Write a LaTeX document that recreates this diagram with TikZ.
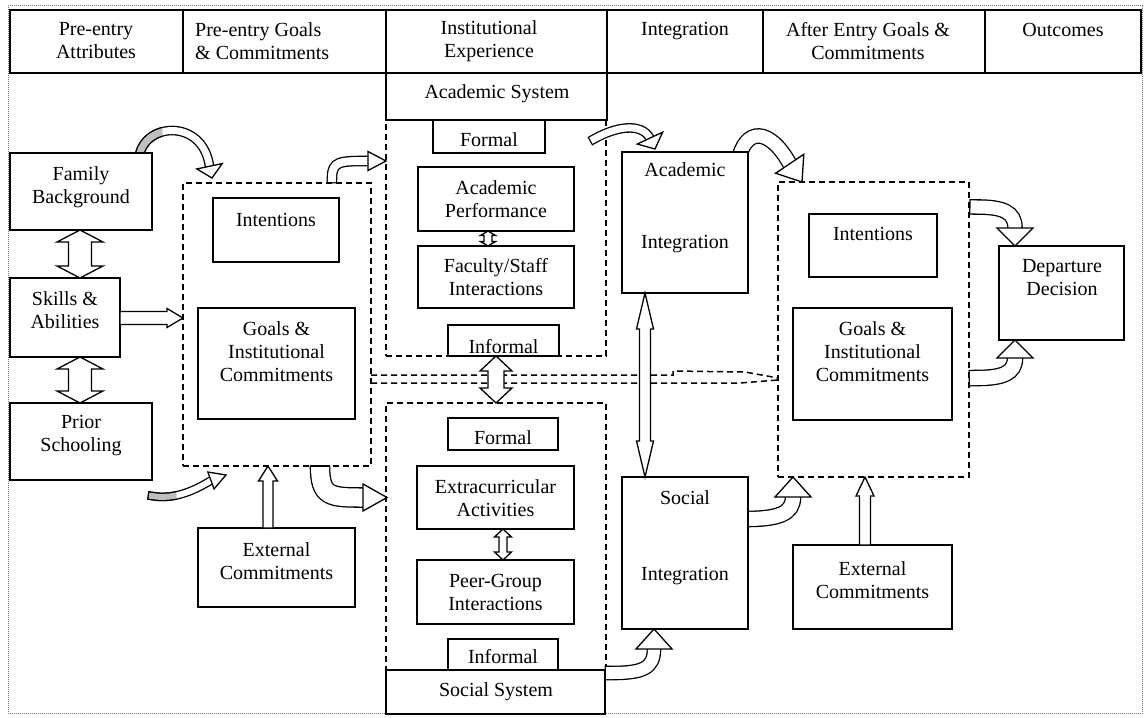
\documentclass[tikz,border=0pt]{standalone}
\usepackage{fontspec}
\setmainfont{Liberation Serif}
\usetikzlibrary{calc}

\tikzset{
  box/.style={draw, line width=1.5pt, fill=white, inner sep=0pt, outer sep=0pt, anchor=north west},
  dbox/.style={draw, line width=1.5pt, dash pattern=on 6pt off 4pt, inner sep=0pt, outer sep=0pt, anchor=north west},
  dline/.style={line width=1.5pt, dash pattern=on 6pt off 4pt},
  txt/.style={align=center, inner sep=0pt, font=\fontsize{20}{23}\selectfont},
  blk/.style={draw, line width=1.3pt, fill=white, line join=miter},
  band/.style={double=white, double distance=#1, line width=1.3pt, line cap=rect},
  headst/.style={draw, line width=1.3pt, fill=white, line join=miter},
  frame/.style={black!55, line width=0.8pt, dash pattern=on 1pt off 1pt}
}

% solid box: name, x1, y1, x2, y2 (pixel coordinates, y downwards)
\newcommand\bx[5]{\node[box, minimum width=#4pt-#2pt, minimum height=#5pt-#3pt] (#1) at (#2,#3) {};}
% dashed box
\newcommand\dbx[5]{\node[dbox, minimum width=#4pt-#2pt, minimum height=#5pt-#3pt] (#1) at (#2,#3) {};}
% vertical double block arrow: x, top anchor, bottom anchor, shaft half, head half, head length
\newcommand\dblV[6]{\draw[blk] let \p1=#2, \p2=#3 in
  (#1pt,\y1) -- (#1pt+#5pt,\y1-#6pt) -- (#1pt+#4pt,\y1-#6pt) -- (#1pt+#4pt,\y2+#6pt) --
  (#1pt+#5pt,\y2+#6pt) -- (#1pt,\y2) -- (#1pt-#5pt,\y2+#6pt) -- (#1pt-#4pt,\y2+#6pt) --
  (#1pt-#4pt,\y1-#6pt) -- (#1pt-#5pt,\y1-#6pt) -- cycle;}
% rightward block arrow: y, from anchor, to anchor, shaft half, head half, head length
\newcommand\arrR[6]{\draw[blk] let \p1=#2, \p2=#3 in
  (\x1,-#1pt+#4pt) -- (\x2-#6pt,-#1pt+#4pt) -- (\x2-#6pt,-#1pt+#5pt) -- (\x2,-#1pt) --
  (\x2-#6pt,-#1pt-#5pt) -- (\x2-#6pt,-#1pt-#4pt) -- (\x1,-#1pt-#4pt) -- cycle;}
% upward block arrow: x, from anchor (bottom), to anchor (top), shaft half, head half, head length
\newcommand\arrU[6]{\draw[blk] let \p1=#2, \p2=#3 in
  (#1pt-#4pt,\y1) -- (#1pt-#4pt,\y2-#6pt) -- (#1pt-#5pt,\y2-#6pt) -- (#1pt,\y2) --
  (#1pt+#5pt,\y2-#6pt) -- (#1pt+#4pt,\y2-#6pt) -- (#1pt+#4pt,\y1) -- cycle;}
% hollow arrow head: tip, direction angle (pixel frame), length, half width
\newcommand\bhead[4]{\draw[headst] #1 -- ($#1+({#2+180}:#3)+({#2+90}:#4)$) -- ($#1+({#2+180}:#3)+({#2-90}:#4)$) -- cycle;}

\begin{document}
\begin{tikzpicture}[x=1pt,y=-1pt]
\useasboundingbox (0,0) rectangle (1145,717);

% outer frame
\draw[frame] (8,5) rectangle (1142.5,713);

% header row
\bx{h1}{10}{10}{183}{73}
\bx{h2}{183}{10}{386}{73}
\bx{h3}{386}{10}{607}{73}
\bx{h4}{607}{10}{763}{73}
\bx{h5}{763}{10}{985}{73}
\bx{h6}{985}{10}{1141}{73}
\node[txt] (h1t) at (96,41) {Pre-entry\\Attributes};
\node[txt, align=left, anchor=west] (h2t) at (195,41) {Pre-entry Goals\\\& Commitments};
\node[txt] (h3t) at (489,41) {Institutional\\Experience};
\node[txt] (h4t) at (685,31) {Integration};
\node[txt] (h5t) at (868,41) {After Entry Goals \&\\Commitments};
\node[txt] (h6t) at (1063,30) {Outcomes};

% dashed groups
\dbx{preDash}{183}{183}{371}{466}
\dbx{acadDash}{386}{120}{606}{356}
\dbx{socDash}{386}{403}{606}{670}
\dbx{afterDash}{778}{182}{969}{477}

% double dashed link between the goal groups
\draw[dline] (preDash.east |- 0,375) -- (673,375) -- (673,371) -- (745,372) -- (afterDash.west |- 0,378);
\draw[dline] (preDash.east |- 0,383) -- (740,383) -- (afterDash.west |- 0,380);

% curved band arrows (bodies)
\draw[band=7pt] (139,158) .. controls (143,122) and (203,118) .. (209.5,166.3);
\begin{scope}
  \clip (120,105) rectangle (162,160);
  \draw[band=7pt, double=gray!50] (139,158) .. controls (143,122) and (203,118) .. (209.5,166.3);
\end{scope}
\draw[band=8pt] (332,178) .. controls (332,161) and (340,161) .. (368,161);
\draw[band=7pt] (594,139) .. controls (615,127) and (641,122) .. (649.9,138.1);
\draw[band=13pt] (738,162) .. controls (745,126) and (770,128) .. (789.7,163.8);
\draw[band=13pt] (977,207) .. controls (1003,207) and (1015,212) .. (1015,228);
\draw[band=14pt] (977,378) .. controls (1003,378) and (1015,373) .. (1015,358);
\draw[band=14pt] (745,519) .. controls (778,519) and (793,514) .. (793,497);
\draw[band=12pt] (612,673) .. controls (643,673) and (654,668) .. (654,649);
\draw[band=18pt, line cap=butt] (320,466) .. controls (320,497) and (330,497.5) .. (363,497.5);
\draw[line width=1.3pt] (309.7,466) -- (330.3,466);
\draw[band=6pt] (152,496) .. controls (175,500) and (195,490) .. (211,480.5);
\begin{scope}
  \clip (140,470) rectangle (176,510);
  \draw[band=6pt, double=gray!50] (152,496) .. controls (175,500) and (195,490) .. (211,480.5);
\end{scope}

% solid boxes
\bx{fam}{10}{153}{152}{230}
\bx{skills}{10}{278}{120}{357}
\bx{prior}{10}{403}{152}{480}
\bx{intL}{213}{198}{339}{262}
\bx{goalsL}{198}{308}{355}{419}
\bx{extL}{198}{528}{355}{607}
\bx{acadSys}{386}{73}{607}{120}
\bx{formA}{433}{120}{545}{153}
\bx{perf}{418}{167}{574}{231}
\bx{fac}{418}{246}{574}{308}
\bx{infA}{448}{325}{559}{356}
\bx{formS}{448}{418}{558}{450}
\bx{extra}{417}{466}{574}{529}
\bx{peer}{417}{560}{574}{624}
\bx{infS}{448}{639}{558}{670}
\bx{socSys}{386}{670}{605}{714}
\bx{acadInt}{622}{152}{748}{293}
\bx{socInt}{622}{477}{748}{629}
\bx{intR}{809}{214}{937}{277}
\bx{goalsR}{793}{308}{952}{420}
\bx{extR}{793}{545}{952}{629}
\bx{dep}{999}{246}{1124}{340}

% texts
\node[txt] (famT) at (81,187) {Family\\Background};
\node[txt] (skillsT) at (65,310) {Skills \&\\Abilities};
\node[txt] (priorT) at (81,436) {Prior\\Schooling};
\node[txt] (intLT) at (276,220) {Intentions};
\node[txt] (goalsLT) at (276.5,352) {Goals \&\\Institutional\\Commitments};
\node[txt] (extLT) at (276.5,561) {External\\Commitments};
\node[txt] (acadSysT) at (497,94) {Academic System};
\node[txt] (formAT) at (489,140) {Formal};
\node[txt] (perfT) at (496,199) {Academic\\Performance};
\node[txt] (facT) at (496,277) {Faculty/Staff\\Interactions};
\node[txt] (infAT) at (503.5,347) {Informal};
\node[txt] (formST) at (503,438) {Formal};
\node[txt] (extraT) at (495.5,498) {Extracurricular\\Activities};
\node[txt] (peerT) at (495.5,592) {Peer-Group\\Interactions};
\node[txt] (infST) at (503,657) {Informal};
\node[txt] (socSysT) at (496,692) {Social System};
\node[txt] (acadIntT) at (685,208) {Academic\\[49pt]Integration};
\node[txt] (socIntT) at (685,538) {Social\\[53pt]Integration};
\node[txt] (intRT) at (873,234) {Intentions};
\node[txt] (goalsRT) at (872.5,352) {Goals \&\\Institutional\\Commitments};
\node[txt] (extRT) at (872.5,580) {External\\Commitments};
\node[txt] (depT) at (1062,278) {Departure\\Decision};

% heads of the curved band arrows
\bhead{(212,178)}{78}{12}{13}
\bhead{(386,161)}{0}{18}{9.5}
\bhead{(655,149)}{65}{12}{14}
\bhead{(802,182)}{56}{22}{17}
\bhead{(1015,246)}{90}{18}{18}
\bhead{(1015,340)}{-90}{18}{18}
\bhead{(793,477)}{-90}{20}{18}
\bhead{(654,629)}{-90}{20}{18}
\bhead{(387,497.5)}{0}{24}{13.5}
\bhead{(226,475)}{-20}{16}{9}

% straight block arrows
\dblV{80}{(fam.south)}{(skills.north)}{11.5}{23}{12}
\dblV{80}{(skills.south)}{(prior.north)}{11.5}{23}{12}
\arrR{318}{(skills.east)}{(preDash.west)}{6.5}{9.5}{16}
\dblV{496}{(acadDash.south)}{(socDash.north)}{8}{16}{15}
\dblV{488}{(perf.south)}{(fac.north)}{4}{7.5}{4.5}
\dblV{503}{(extra.south)}{(peer.north)}{4}{8.5}{8}
\dblV{645}{(acadInt.south)}{(socInt.north)}{5.5}{8.5}{36}
\arrU{268}{(extL.north)}{(preDash.south)}{5}{9.5}{15}
\arrU{865}{(extR.north)}{(afterDash.south)}{5.5}{9}{19}
\end{tikzpicture}
\end{document}
